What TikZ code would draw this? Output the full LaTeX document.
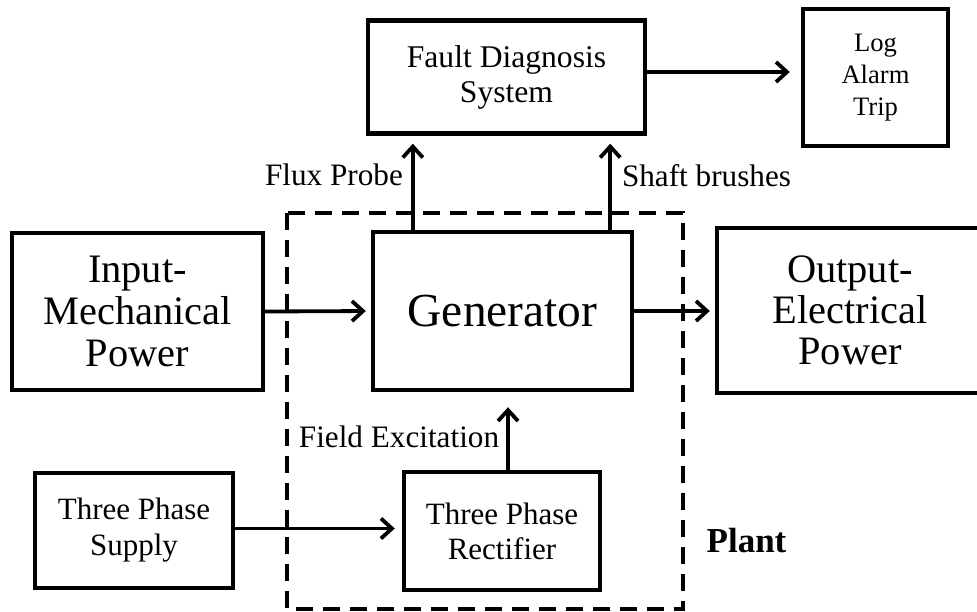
\documentclass[tikz,border=0pt]{standalone}
\usepackage{fontspec}
\setmainfont{Liberation Serif}
\usetikzlibrary{arrows.meta}

\tikzset{
  block/.style={draw, line width=2.2pt, inner sep=0pt, align=center},
  arr/.style={line width=1.9pt, -{Straight Barb[length=5.5pt,width=10pt,line width=1.9pt]}},
  plantbox/.style={line width=1.8pt, dash pattern=on 8.5pt off 5pt},
  lbl/.style={inner sep=0pt, anchor=base, font=\fontsize{15.6}{17}\selectfont}
}

\begin{document}
\begin{tikzpicture}[x=0.5pt, y=-0.5pt]
  \fill[white] (0,0) rectangle (977,611);
  \useasboundingbox (0,0) rectangle (977,611);

  % plant boundary
  \draw[plantbox] (287,213) rectangle (683,609);

  % blocks
  \node[block, minimum width=138.5pt, minimum height=56.5pt,
        font=\fontsize{15.8}{17.5}\selectfont] (fault) at (506.5,77)
        {Fault Diagnosis\\System};
  \node[block, minimum width=72.5pt, minimum height=68.5pt,
        font=\fontsize{13.3}{16}\selectfont] (log) at (875.5,77.5)
        {Log\\Alarm\\Trip};
  \node[block, minimum width=125.5pt, minimum height=78.5pt,
        font=\fontsize{20.2}{21.2}\selectfont] (input) at (137.5,311.5)
        {Input-\\Mechanical\\Power};
  \node[block, minimum width=129.5pt, minimum height=79pt,
        font=\fontsize{23.7}{25}\selectfont] (gen) at (502.5,311)
        {Generator};
  \node[block, minimum width=133pt, minimum height=82.5pt,
        font=\fontsize{20.2}{20.6}\selectfont] (output) at (850,310.5)
        {Output-\\Electrical\\Power};
  \node[block, minimum width=99pt, minimum height=57.5pt,
        font=\fontsize{15.5}{18}\selectfont] (supply) at (134,530.5)
        {Three Phase\\Supply};
  \node[block, minimum width=98pt, minimum height=59pt,
        font=\fontsize{15.5}{17.5}\selectfont] (rect) at (502,531)
        {Three Phase\\Rectifier};

  % connectors
  \draw[arr, shorten >=5.5pt] ([yshift=2.5pt]fault.east) -- ([yshift=2.5pt]fault.east -| log.west);
  \draw[arr, shorten >=4pt] ([xshift=21pt]gen.north west)
        -- ([xshift=21pt]gen.north west |- fault.south);
  \draw[arr, shorten >=4pt] ([xshift=-12pt]gen.north east)
        -- ([xshift=-12pt]gen.north east |- fault.south);
  \draw[arr, shorten >=2.5pt] (input.east) -- (gen.west);
  \draw[arr, shorten >=2.5pt] (gen.east) -- (gen.east -| output.west);
  \draw[arr, shorten >=3.5pt] ([yshift=1pt]supply.east) -- ([yshift=1pt]supply.east -| rect.west);
  \draw[arr, shorten >=7.5pt] ([xshift=3pt]rect.north)
        -- ([xshift=3pt]rect.north |- gen.south);

  % labels
  \node[lbl] (flux) at (334,185) {Flux Probe};
  \node[lbl] (shaft) at (706.5,186) {Shaft brushes};
  \node[lbl] (field) at (399,447) {Field Excitation};
  \node[lbl, font=\fontsize{17.5}{19}\selectfont\bfseries] (plant) at (746.5,552) {Plant};
\end{tikzpicture}
\end{document}
